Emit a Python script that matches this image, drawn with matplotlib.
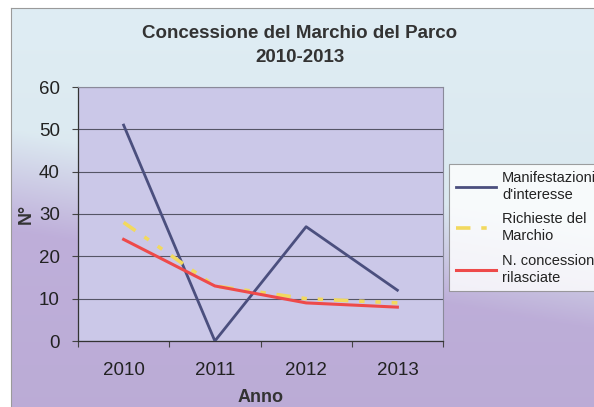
import numpy as np
import matplotlib.pyplot as plt
from matplotlib.colors import to_rgb

anni = ['2010', '2011', '2012', '2013']
manifestazioni = [51, 0, 27, 12]
richieste = [28, 13, 10, 9]
concessioni = [24, 13, 9, 8]
etichette = ["Manifestazioni\nd'interesse", "Richieste del\nMarchio", "N. concessioni\nrilasciate"]

plt.rcParams['font.family'] = ['Liberation Sans', 'DejaVu Sans']

fig = plt.figure(figsize=(5.94, 4.07), dpi=100)
fig.patch.set_facecolor('white')

# background of the chart area: light blue on top fading to lavender, slightly diagonal
bg = fig.add_axes([11 / 594, 0, 1 - 11 / 594, 1 - 8 / 407])
h, w = 200, 300
yy, xx = np.mgrid[0:h, 0:w]
yf = yy / (h - 1)
xf = xx / (w - 1)
t = np.clip((yf - (0.43 + 0.25 * xf)) / 0.25 + 0.5, 0, 1)
c_top = np.array(to_rgb('#dfedf4'))
c_bot = np.array(to_rgb('#c3b3df'))
img = c_top[None, None, :] * (1 - t[..., None]) + c_bot[None, None, :] * t[..., None]
img = img * (1 - 0.04 * yf[..., None])
bg.imshow(img, aspect='auto', extent=[0, 1, 0, 1], origin='upper')
bg.set_xlim(0, 1)
bg.set_ylim(0, 1)
bg.set_xticks([])
bg.set_yticks([])
for s in bg.spines.values():
    s.set_color('#9a9a9a')
    s.set_linewidth(0.8)
bg.spines['right'].set_visible(False)
bg.spines['bottom'].set_visible(False)

ax = fig.add_axes([78 / 594, 1 - 341 / 407, 365 / 594, 254 / 407])
ax.set_facecolor('#cbc8e8')

x = np.arange(len(anni))
ax.plot(x, manifestazioni, color='#4b4f7e', lw=2.0, label=etichette[0], zorder=3)
ax.plot(x, richieste, color='#f2d95e', lw=2.6, linestyle=(0, (4, 3, 1.5, 3, 1.5, 3)),
        label=etichette[1], zorder=3)
ax.plot(x, concessioni, color='#ee4a4a', lw=2.2, label=etichette[2], zorder=4)

ax.set_xlim(-0.5, 3.5)
ax.set_ylim(0, 60)
ax.set_yticks(range(0, 61, 10))
ax.yaxis.grid(True, color='#555566', lw=0.8)
ax.set_axisbelow(True)

ax.set_xticks([-0.5, 0.5, 1.5, 2.5, 3.5])
ax.set_xticklabels([])
ax.set_xticks(x, minor=True)
ax.set_xticklabels(anni, minor=True)
ax.tick_params(axis='x', which='major', length=4, color='#444444', direction='out')
ax.tick_params(axis='x', which='minor', length=0, pad=15, labelsize=13.5, labelcolor='#222222')
ax.tick_params(axis='y', length=4, color='#444444', pad=9, labelsize=13.5, labelcolor='#222222')

for side in ['left', 'bottom']:
    ax.spines[side].set_color('#333333')
    ax.spines[side].set_linewidth(0.9)
for side in ['top', 'right']:
    ax.spines[side].set_color('#8a8a9a')
    ax.spines[side].set_linewidth(0.8)

ax.set_xlabel('Anno', fontsize=13, fontweight='bold', color='#333333', labelpad=7)
ax.set_ylabel('N°', fontsize=13, fontweight='bold', color='#333333', labelpad=3)

fig.text(300 / 594, 1 - 33 / 407, 'Concessione del Marchio del Parco', ha='center', va='center',
         fontsize=13.5, fontweight='bold', color='#333333')
fig.text(300 / 594, 1 - 57 / 407, '2010-2013', ha='center', va='center',
         fontsize=13.5, fontweight='bold', color='#333333')

leg = ax.legend(loc='upper left', bbox_to_anchor=(449 / 594, 1 - 164 / 407),
                bbox_transform=fig.transFigure, fontsize=10.5, frameon=True, fancybox=False,
                handlelength=2.8, handletextpad=0.4, labelspacing=0.7, borderpad=0.45,
                borderaxespad=0)
leg.get_frame().set_facecolor('white')
leg.get_frame().set_edgecolor('#888888')
leg.get_frame().set_linewidth(0.8)
for txt in leg.get_texts():
    txt.set_color('#222222')
    txt.set_linespacing(1.3)

fig.savefig('out.png', dpi=100)
